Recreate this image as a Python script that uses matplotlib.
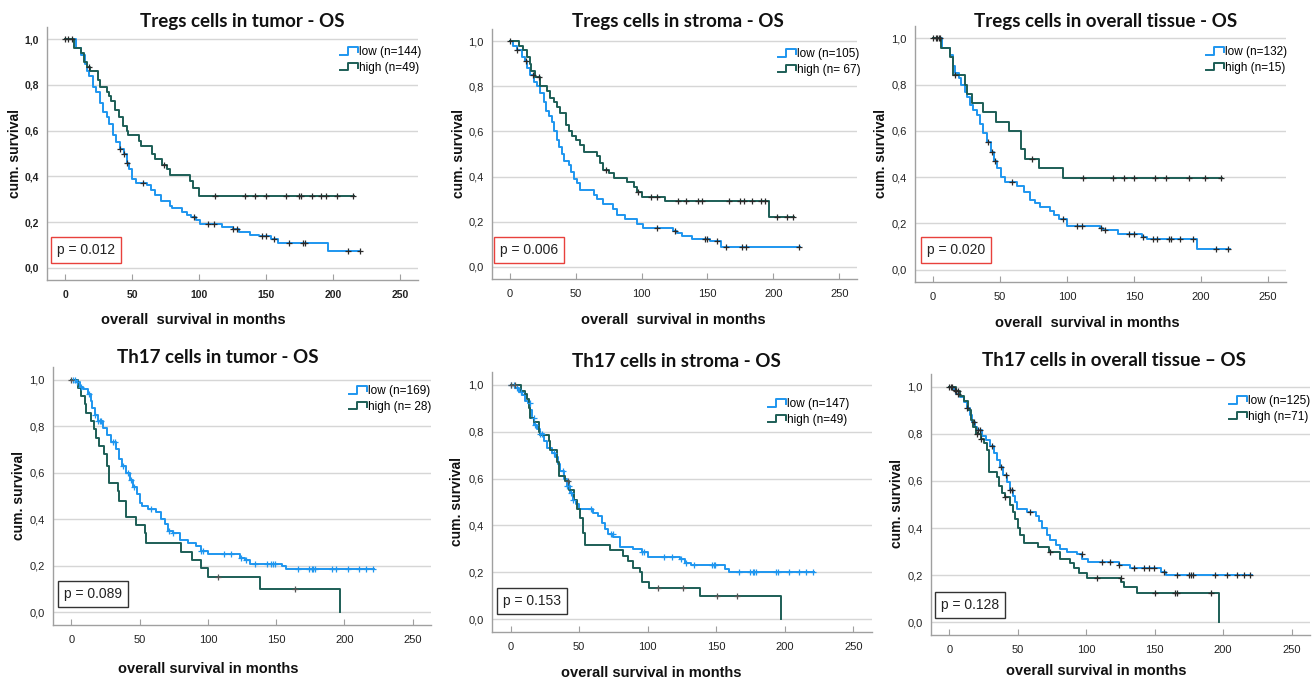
import numpy as np
import matplotlib
matplotlib.use("Agg")
import matplotlib.pyplot as plt
from matplotlib.legend_handler import HandlerBase
from matplotlib.lines import Line2D

W, H = 1312, 683
BLUE = '#1e96ef'
GREEN = '#1d5e56'

# ---- Tregs in tumor
t1_low = [0, 8.5, 12, 15, 16.4, 18, 21, 23, 26, 28, 31, 33, 36, 38, 41, 44, 46, 48, 50, 53, 61, 64, 67,
          71.5, 78, 80, 87, 91, 94, 98, 100.6, 117, 125, 130, 138, 145, 154, 159, 196.5]
s1_low = [1.0, 0.96, 0.93, 0.89, 0.86, 0.84, 0.79, 0.77, 0.72, 0.68, 0.66, 0.63, 0.58, 0.55, 0.52, 0.50,
          0.46, 0.43, 0.39, 0.37, 0.36, 0.34, 0.32, 0.29, 0.27, 0.26, 0.245, 0.23, 0.22, 0.21, 0.19, 0.18,
          0.17, 0.155, 0.145, 0.14, 0.125, 0.107, 0.073]
c1_low = [0, 2.5, 5, 41, 44, 46, 58, 96, 107, 111, 125, 128, 147, 150, 156, 167, 178, 179, 211, 220]
t1_high = [0, 7, 12, 14, 16.4, 18.4, 24.6, 26.4, 31, 33, 34.6, 37, 40, 43, 46, 47, 55, 57, 65, 67, 72,
           76, 78, 93.6, 95.6, 100]
s1_high = [1.0, 0.96, 0.94, 0.90, 0.88, 0.86, 0.82, 0.79, 0.77, 0.75, 0.73, 0.69, 0.66, 0.62, 0.60, 0.58,
           0.555, 0.535, 0.50, 0.475, 0.45, 0.43, 0.405, 0.38, 0.35, 0.315]
c1_high = [18, 73.7, 112, 134, 142, 150, 165, 175, 176.5, 184, 191, 195, 203, 215]

# ---- Tregs in stroma
t2_low = [0, 2.5, 5.8, 9, 11.6, 13.4, 15.5, 18.7, 20.5, 23, 25.6, 27.6, 29.4, 32, 33.7, 35.7, 37.7, 39.5,
          40.8, 44.6, 46.6, 48.9, 51, 53.4, 63.6, 66, 70.7, 78, 81, 87.6, 96.5, 100.8, 123.6, 127, 131,
          138, 152, 160]
s2_low = [1.0, 0.98, 0.96, 0.93, 0.91, 0.88, 0.85, 0.82, 0.80, 0.77, 0.73, 0.69, 0.67, 0.64, 0.60, 0.56,
          0.53, 0.50, 0.47, 0.45, 0.42, 0.39, 0.37, 0.34, 0.32, 0.30, 0.28, 0.255, 0.23, 0.21, 0.19, 0.17,
          0.16, 0.15, 0.135, 0.125, 0.115, 0.09]
c2_low = [0, 5.8, 12.4, 17.5, 111.5, 125.6, 148, 150, 157, 164, 176, 179, 219.6]
t2_high = [0, 7.3, 10.4, 13.4, 15, 16.2, 19.2, 23, 28, 30.6, 33.2, 35.7, 38.2, 42.8, 44.6, 47, 50.4,
           53.4, 56, 66, 68.6, 71, 75, 78.8, 89, 94, 96.5, 100.3, 118, 197]
s2_high = [1.0, 0.98, 0.96, 0.93, 0.90, 0.87, 0.84, 0.80, 0.78, 0.75, 0.73, 0.71, 0.68, 0.63, 0.60, 0.58,
           0.56, 0.54, 0.51, 0.49, 0.46, 0.43, 0.415, 0.395, 0.375, 0.355, 0.33, 0.31, 0.29, 0.22]
c2_high = [22, 73, 97, 107, 111.7, 128, 134, 142.6, 146, 166, 174.5, 177.6, 184, 191, 194, 203, 210.5, 215]

# ---- Tregs in overall tissue
t3_low = [0, 7, 12.7, 14.7, 16.4, 19, 20.6, 24, 25.6, 27.6, 30, 32.6, 35, 37.6, 40, 43, 45.5, 48, 50.5,
          53.7, 62.4, 68, 72, 76, 80, 87.3, 90, 94, 100, 124.6, 127, 138, 155.7, 159.5, 196.8]
s3_low = [1.0, 0.96, 0.93, 0.88, 0.85, 0.83, 0.80, 0.77, 0.745, 0.71, 0.69, 0.67, 0.63, 0.59, 0.55, 0.51,
          0.47, 0.44, 0.40, 0.38, 0.36, 0.335, 0.30, 0.29, 0.27, 0.255, 0.235, 0.22, 0.19, 0.18, 0.17,
          0.155, 0.14, 0.13, 0.087]
c3_low = [0, 2.5, 5, 41, 44, 46, 58.7, 96.8, 107.7, 111, 125, 128, 146, 150, 156.5, 164, 167, 176, 178,
          184, 194, 211, 220]
t3_high = [0, 6, 12.7, 15, 24, 25.2, 29.4, 37.6, 47, 57, 66, 68.6, 79.4, 96.8]
s3_high = [1.0, 0.96, 0.92, 0.84, 0.80, 0.76, 0.72, 0.68, 0.64, 0.60, 0.52, 0.48, 0.44, 0.395]
c3_high = [2.7, 4.5, 16.4, 73.6, 112, 134.6, 142.5, 150, 166, 174, 191, 203, 215]

# ---- Th17 in tumor
t4_low = [0, 3, 6, 8.5, 12, 14, 15.4, 17, 19.5, 23, 26, 29, 33, 35, 37.4, 40, 43, 45, 47.7, 50, 52, 56,
          62, 66, 68.4, 71, 74.5, 79.4, 85.5, 91.6, 95.3, 100.2, 123.4, 127, 130.7, 154, 157]
s4_low = [1.0, 0.99, 0.97, 0.96, 0.94, 0.91, 0.88, 0.85, 0.82, 0.79, 0.76, 0.73, 0.70, 0.66, 0.63, 0.60,
          0.57, 0.54, 0.51, 0.47, 0.455, 0.445, 0.43, 0.40, 0.38, 0.35, 0.34, 0.31, 0.30, 0.285, 0.265,
          0.25, 0.235, 0.225, 0.21, 0.20, 0.185]
c4_low = [0.8, 2.5, 4.2, 7.3, 13, 17.6, 19.5, 20.8, 22, 30.5, 31.7, 37.9, 41.5, 44, 45.7, 58.6, 71.6,
          74.5, 95.3, 96.5, 111.7, 117.3, 124, 128, 134.4, 143, 146.6, 148, 149, 166, 174, 176, 177,
          178.4, 191, 194, 203, 211, 216, 220.7]
t4_high = [0, 4.9, 7.3, 9.8, 10.5, 14.7, 16.4, 18.3, 20.3, 24, 26.4, 27.4, 34.2, 35, 40.3, 47, 53.8,
           54.3, 80.6, 88, 95.3, 100.2, 138, 196.7]
s4_high = [1.0, 0.964, 0.929, 0.893, 0.857, 0.821, 0.786, 0.75, 0.714, 0.68, 0.63, 0.556, 0.52, 0.48,
           0.41, 0.375, 0.34, 0.30, 0.26, 0.225, 0.19, 0.15, 0.10, 0.0]
c4_high = [0, 107.5, 164]

# ---- Th17 in stroma
t5_low = [0, 3.6, 6, 8.5, 10.9, 12.6, 14.5, 15.7, 17.4, 19.3, 21.3, 24.2, 26.6, 30.2, 32.6, 34.3, 36.3,
          38.7, 41, 43.5, 45.5, 47.9, 49.6, 60.4, 64, 66.5, 69, 71.3, 75, 79.8, 89.5, 95.5, 100.3, 123.3,
          127, 131.8, 156, 159.6]
s5_low = [1.0, 0.985, 0.97, 0.955, 0.93, 0.92, 0.89, 0.86, 0.83, 0.81, 0.79, 0.76, 0.73, 0.71, 0.69,
          0.66, 0.63, 0.60, 0.57, 0.54, 0.51, 0.49, 0.47, 0.455, 0.44, 0.41, 0.385, 0.365, 0.35, 0.31,
          0.30, 0.285, 0.265, 0.255, 0.24, 0.23, 0.215, 0.20]
c5_low = [0, 2.4, 4.4, 7.3, 14, 17, 18, 21.3, 23, 31.4, 38.2, 41, 42.3, 44.2, 45.9, 58.5, 73, 74.5, 96.2,
          97.3, 111.7, 117.7, 124, 128, 134, 147, 148, 149.4, 166.8, 174.8, 176.5, 177.7, 178.9, 193.4,
          195.3, 203, 210, 215.7, 220.5]
t5_high = [0, 7.3, 10.2, 12, 13.3, 14.5, 17, 20.6, 21.3, 27.8, 29, 33.8, 35, 39.9, 42.3, 46, 48.4, 50.8,
           52.7, 54.4, 72.5, 81.7, 85.8, 89.5, 94.3, 95.5, 101, 138.3, 197]
s5_high = [1.0, 0.975, 0.96, 0.94, 0.90, 0.86, 0.84, 0.80, 0.785, 0.76, 0.72, 0.67, 0.61, 0.59, 0.55,
           0.51, 0.47, 0.43, 0.37, 0.315, 0.295, 0.27, 0.25, 0.22, 0.20, 0.16, 0.135, 0.10, 0.0]
c5_high = [0, 3.1, 41.6, 107.6, 125.7, 150.4, 165]

# ---- Th17 in overall tissue
t6_low = [0, 3.2, 5.1, 8, 10.5, 12.9, 14.9, 16.6, 18.3, 20.2, 23.9, 27, 29.5, 32.4, 34.4, 36.8, 39.2,
          41.7, 44.1, 46.5, 48.2, 49.5, 56.8, 62.9, 65.3, 67.7, 71.4, 73.8, 78.2, 81.1, 86, 93.3, 97,
          101.1, 123.8, 132.3, 154.7, 158.6]
s6_low = [1.0, 0.985, 0.97, 0.955, 0.935, 0.91, 0.88, 0.85, 0.83, 0.815, 0.79, 0.775, 0.75, 0.72, 0.69,
          0.66, 0.625, 0.595, 0.56, 0.535, 0.51, 0.48, 0.47, 0.45, 0.43, 0.40, 0.37, 0.35, 0.33, 0.31,
          0.30, 0.29, 0.27, 0.255, 0.245, 0.23, 0.215, 0.20]
c6_low = [0, 2, 3.7, 6, 12.9, 17.8, 20.7, 22.2, 31.2, 37.8, 41, 44.1, 45.8, 58.7, 96.5, 111.6, 117.2,
          123.8, 134.7, 142, 145.7, 149.4, 156.7, 166, 175, 176.7, 178, 194.4, 202.5, 210.3, 215, 220]
t6_high = [0, 5.1, 7.6, 10.5, 13.4, 15.4, 17.3, 19.7, 22.7, 25.1, 27.5, 28.8, 34.4, 36, 38.5, 40.9, 44.1,
           46.5, 48.2, 50, 51.4, 54.3, 64.6, 72.6, 80.7, 88, 90.9, 94.5, 100.6, 125.5, 127.4, 137.2, 196.9]
s6_high = [1.0, 0.98, 0.96, 0.94, 0.90, 0.86, 0.83, 0.80, 0.78, 0.76, 0.73, 0.64, 0.615, 0.58, 0.55,
           0.53, 0.50, 0.47, 0.44, 0.40, 0.37, 0.335, 0.32, 0.30, 0.27, 0.25, 0.23, 0.21, 0.19, 0.17, 0.15,
           0.125, 0.0]
c6_high = [0.8, 5.1, 6, 20.2, 22.7, 40.9, 73.3, 107.5, 125, 150, 164.5, 166.4, 190.8]

titles = ['Tregs cells in tumor - OS', 'Tregs cells in stroma - OS', 'Tregs cells in overall tissue - OS',
          'Th17 cells in tumor - OS', 'Th17 cells in stroma - OS', 'Th17 cells in overall tissue \u2013 OS']
xlabels = ['overall  survival in months'] * 3 + ['overall survival in months'] * 3
low_labels = ['low (n=144)', 'low (n=105)', 'low (n=132)', 'low (n=169)', 'low (n=147)', 'low (n=125)']
high_labels = ['high (n=49)', 'high (n= 67)', 'high (n=15)', 'high (n= 28)', 'high (n=49)', 'high (n=71)']
end_low = [220, 220.6, 221.6, 221.6, 221, 221]
end_high = [216, 216, 216, 196.7, 197, 196.9]
pvalues = ['p = 0.012', 'p = 0.006', 'p = 0.020', 'p = 0.089', 'p = 0.153', 'p = 0.128']
xticks = [0, 50, 100, 150, 200, 250]
yticks = [0.0, 0.2, 0.4, 0.6, 0.8, 1.0]
ytick_labels = ['0,0', '0,2', '0,4', '0,6', '0,8', '1,0']

curves = [
    (t1_low, s1_low, c1_low, t1_high, s1_high, c1_high),
    (t2_low, s2_low, c2_low, t2_high, s2_high, c2_high),
    (t3_low, s3_low, c3_low, t3_high, s3_high, c3_high),
    (t4_low, s4_low, c4_low, t4_high, s4_high, c4_high),
    (t5_low, s5_low, c5_low, t5_high, s5_high, c5_high),
    (t6_low, s6_low, c6_low, t6_high, s6_high, c6_high),
]

# layout in pixels: axes (left, top, right, bottom), title, xlabel, ylabel, legend, p box
axes_px = [(47, 27, 418, 280), (492, 29, 857, 279), (915, 26, 1286, 282),
           (53, 367, 431, 625), (492, 372, 872, 632), (931, 374, 1310, 635)]
title_px = [(242, 21), (678, 21), (1106, 21), (218, 357), (676, 361), (1114, 360)]
xlab_px = [(193, 320), (673, 320), (1087, 323), (208, 669), (651, 673), (1096, 671)]
ylab_px = [(15, 153), (459, 153), (881, 153), (19, 495), (457, 502), (897, 504)]
leg_px = [(340, 46), (778, 48), (1206, 46), (349, 385), (768, 398), (1229, 395)]
p_px = [(86, 250), (529, 250), (956, 250), (93, 594), (532, 601), (970, 605)]
p_edge = ['#e8413c'] * 3 + ['#333333'] * 3


class StepHandler(HandlerBase):
    def create_artists(self, legend, orig_handle, xdescent, ydescent, width, height, fontsize, trans):
        x0, y0 = -xdescent, -ydescent
        xs = [x0, x0 + 0.45 * width, x0 + 0.45 * width, x0 + width, x0 + width]
        ys = [y0 + 0.1 * height, y0 + 0.1 * height, y0 + 0.9 * height, y0 + 0.9 * height, y0 + 0.35 * height]
        return [Line2D(xs, ys, color=orig_handle.get_color(), lw=1.4, transform=trans)]


def step_value(t, s, x):
    idx = np.searchsorted(t, x, side='right') - 1
    return np.asarray(s)[idx]


fig = plt.figure(figsize=(W / 100, H / 100), dpi=100)
fig.patch.set_facecolor('white')

for i in range(6):
    tl, sl, cl, th, sh, ch = curves[i]
    L, T, R, B = axes_px[i]
    ax = fig.add_axes([L / W, 1 - B / H, (R - L) / W, (B - T) / H])
    ax.set_xlim(-13.5, 263.5)
    ax.set_ylim(-0.054, 1.054)

    for y in yticks:
        ax.axhline(y, color='#d6d6d6', lw=1.0, zorder=0)

    h_low, = ax.step(np.append(tl, end_low[i]), np.append(sl, sl[-1]), where='post', color=BLUE, lw=1.4)
    h_high, = ax.step(np.append(th, end_high[i]), np.append(sh, sh[-1]), where='post', color=GREEN, lw=1.4)

    mark_low = BLUE if i in (3, 4) else '#2a2a2a'
    mark_high = '#555555' if i in (3, 4) else '#2a2a2a'
    ax.plot(cl, step_value(tl, sl, cl), ls='none', marker='+', ms=5, mew=0.9, color=mark_low, zorder=3)
    ax.plot(ch, step_value(th, sh, ch), ls='none', marker='+', ms=5, mew=0.9, color=mark_high, zorder=3)

    for side in ('top', 'right'):
        ax.spines[side].set_visible(False)
    for side in ('left', 'bottom'):
        ax.spines[side].set_color('#a0a0a0')
        ax.spines[side].set_linewidth(1.0)

    ax.set_xticks(xticks)
    ax.set_yticks(yticks)
    ax.set_yticklabels(ytick_labels)
    tick_weight = 'bold' if i == 0 else 'normal'
    tick_size = 7.5 if i == 0 else 8
    ax.tick_params(axis='x', direction='in', length=4, color='#a0a0a0', pad=7, labelsize=tick_size)
    ax.tick_params(axis='y', length=0, pad=6, labelsize=tick_size)
    for lab in ax.get_xticklabels() + ax.get_yticklabels():
        lab.set_fontfamily('Liberation Sans')
        lab.set_fontweight(tick_weight)
        lab.set_color('#222222')

    leg = ax.legend([h_low, h_high], [low_labels[i], high_labels[i]],
                    handler_map={Line2D: StepHandler()},
                    loc='upper left', bbox_to_anchor=(leg_px[i][0] / W, 1 - leg_px[i][1] / H),
                    bbox_transform=fig.transFigure, frameon=False, borderpad=0, borderaxespad=0,
                    handlelength=1.5, handleheight=0.8, handletextpad=0.1, labelspacing=0.3,
                    prop={'family': 'Liberation Sans', 'size': 8.5})

    px, py = p_px[i]
    fig.text(px / W, 1 - py / H, pvalues[i], ha='center', va='center', fontsize=10,
             family='Liberation Sans', color='#222222',
             bbox=dict(boxstyle='square,pad=0.4', fc='white', ec=p_edge[i], lw=1.0))

    fig.text(title_px[i][0] / W, 1 - title_px[i][1] / H, titles[i], ha='center', va='center',
             fontsize=13.5, fontweight='bold', family='Lato', color='#111111')
    fig.text(xlab_px[i][0] / W, 1 - xlab_px[i][1] / H, xlabels[i], ha='center', va='center',
             fontsize=10.5, fontweight='bold', family='Liberation Sans', color='#111111')
    fig.text(ylab_px[i][0] / W, 1 - ylab_px[i][1] / H, 'cum. survival', ha='center', va='center',
             rotation=90, fontsize=10, fontweight='bold', family='Liberation Sans', color='#111111')

fig.savefig('out.png', dpi=100, facecolor='white')
